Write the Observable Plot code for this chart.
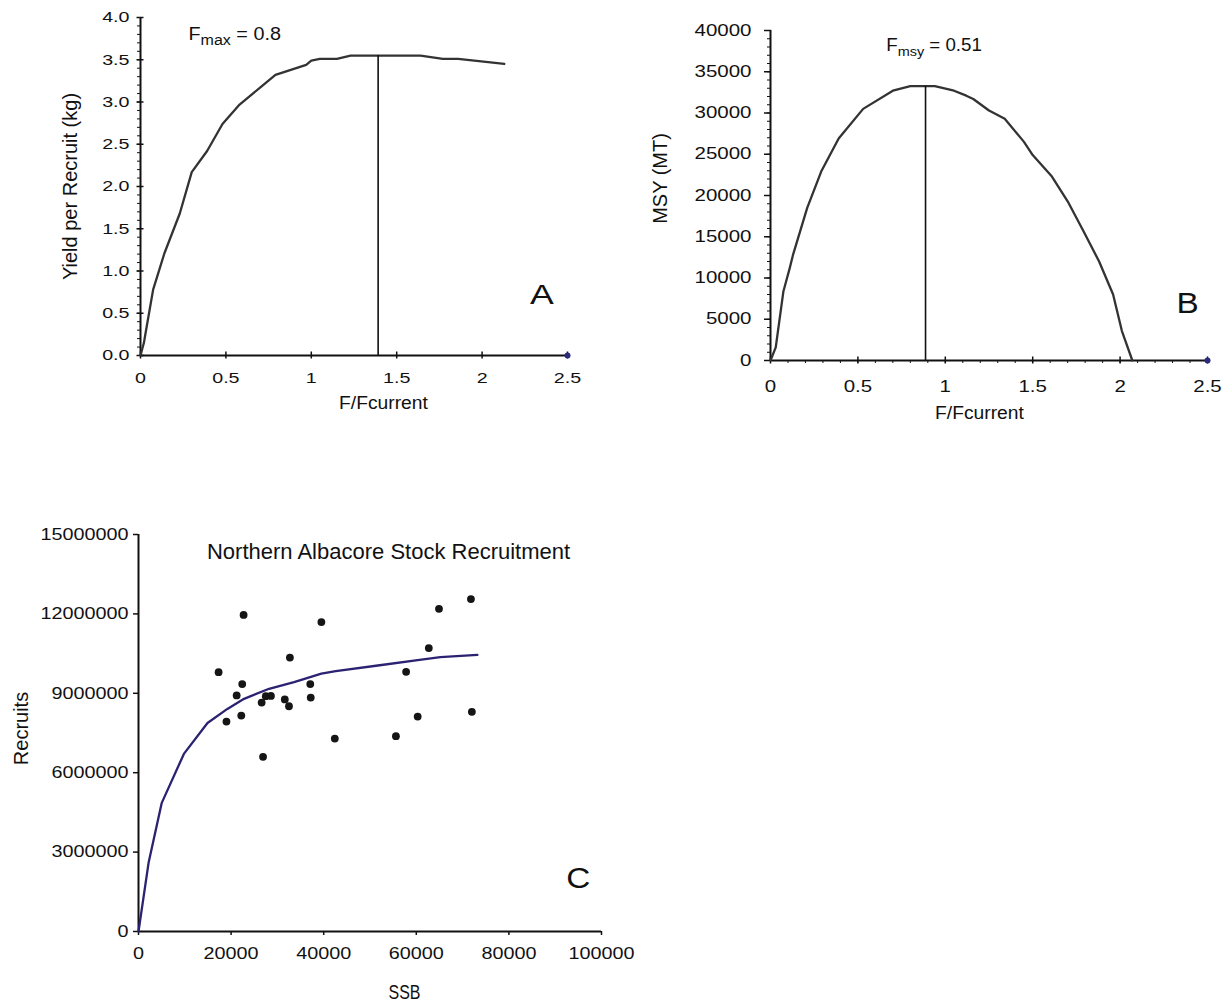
<!DOCTYPE html>
<html>
<head>
<meta charset="utf-8">
<script src="https://cdn.jsdelivr.net/npm/d3@7"></script>
<script src="https://cdn.jsdelivr.net/npm/@observablehq/plot@0.6"></script>
<style>
  body { margin: 0; background: #fff; }
  #page { position: relative; width: 1232px; height: 1003px; overflow: hidden; background: #fff; }
  .panel { position: absolute; }
</style>
</head>
<body>
<div id="page"></div>
<script>
// ---- Panel A: yield per recruit against relative fishing mortality ----
const yprRatio = [0, 0.02, 0.03, 0.074, 0.14, 0.23, 0.30, 0.39, 0.48, 0.58, 0.70, 0.79, 0.88, 0.97, 1.00, 1.05, 1.15, 1.23, 1.40, 1.64, 1.77, 1.86, 2.13];
const yprKg    = [0, 0.15, 0.27, 0.78, 1.21, 1.68, 2.17, 2.42, 2.74, 2.97, 3.17, 3.32, 3.38, 3.44, 3.49, 3.51, 3.51, 3.55, 3.55, 3.55, 3.51, 3.51, 3.45];

// ---- Panel B: equilibrium yield against relative fishing mortality ----
const msyRatio = [0, 0.03, 0.074, 0.11, 0.13, 0.21, 0.29, 0.39, 0.53, 0.70, 0.80, 0.94, 1.05, 1.12, 1.16, 1.25, 1.34, 1.45, 1.50, 1.61, 1.70, 1.79, 1.88, 1.96, 2.01, 2.07];
const msyTons  = [0, 1600, 8400, 11200, 12900, 18500, 22900, 26900, 30500, 32700, 33250, 33250, 32700, 32100, 31700, 30300, 29300, 26500, 24900, 22300, 19300, 15700, 12000, 8000, 3600, 0];

// ---- Panel C: observed stock-recruitment pairs and fitted curve ----
const ssbObs      = [17300, 22700, 21200, 22400, 22200, 19000, 26600, 26900, 27500, 28600, 31600, 32500, 32700, 37100, 37200, 39500, 42400, 55600, 57800, 60300, 62700, 64900, 71800, 72000];
const recruitsObs = [9800000, 11960000, 8920000, 9350000, 8160000, 7930000, 8650000, 6600000, 8890000, 8900000, 8770000, 8510000, 10350000, 9350000, 8840000, 11690000, 7290000, 7380000, 9810000, 8120000, 10710000, 12190000, 12560000, 8300000];
const fitSsb      = [0, 2200, 5000, 9800, 14900, 19200, 22800, 28200, 33600, 39500, 42600, 51700, 60700, 65200, 73200];
const fitRecruits = [0, 2620000, 4850000, 6710000, 7880000, 8410000, 8790000, 9170000, 9420000, 9740000, 9840000, 10050000, 10260000, 10370000, 10450000];

// ---- Reference points ----
const fCurrent  = 0.575;   // current fishing mortality
const fMax      = 0.8;
const fMsy      = 0.51;
const yprAtFmax = 3.55;
const msyAtFmsy = 33250;

// ---- Axis ticks ----
const ratioTicks    = [0, 0.5, 1, 1.5, 2, 2.5];
const ratioMinor    = d3.range(0, 26).map(i => i / 10);
const yprTicks      = [0, 0.5, 1, 1.5, 2, 2.5, 3, 3.5, 4];
const yprMinor      = d3.range(0, 41).map(i => i / 10);
const msyTicks      = [0, 5000, 10000, 15000, 20000, 25000, 30000, 35000, 40000];
const msyMinor      = d3.range(0, 41).map(i => i * 1000);
const ssbTicks      = [0, 20000, 40000, 60000, 80000, 100000];
const recruitTicks  = [0, 3000000, 6000000, 9000000, 12000000, 15000000];

const FONT = "'Liberation Sans', Arial, Helvetica, sans-serif";
const INK = "#111";
const baseStyle = { fontFamily: FONT, color: INK, background: "transparent", overflow: "visible" };
const blank = () => "";
const plain = d => String(d);

function zip(xs, ys, kx, ky) { return xs.map((v, i) => ({ [kx]: v, [ky]: ys[i] })); }

// Turn "F|sub| rest" text into a subscripted label
function subscriptLabels(svg, subSize) {
  d3.select(svg).selectAll("text").each(function () {
    const s = this.textContent;
    if (!s.includes("|")) return;
    const [main, sub, rest] = s.split("|");
    const t = d3.select(this);
    t.text(null);
    t.append("tspan").text(main);
    t.append("tspan").attr("dy", 5).attr("font-size", subSize).text(sub);
    t.append("tspan").attr("dy", -5).text(rest);
  });
}

// Widen (or narrow) horizontal text about its own anchor point
function widen(selection, sx) {
  selection.each(function () {
    const tr = this.getAttribute("transform") || "";
    const x = +this.getAttribute("x") || 0;
    const y = +this.getAttribute("y") || 0;
    this.setAttribute("transform", `${tr} translate(${x},${y}) scale(${sx},1) translate(${-x},${-y})`);
  });
}
function widenTicks(svg, sx) {
  widen(d3.select(svg).selectAll('g[aria-label="x-axis tick label"] text, g[aria-label="y-axis tick label"] text'), sx);
}
function widenWords(svg, words, sx) {
  widen(d3.select(svg).selectAll("text").filter(function () { return words.includes(this.textContent); }), sx);
}

function place(svg, left, top, w) {
  const div = document.createElement("div");
  div.className = "panel";
  div.style.left = left + "px";
  div.style.top = top + "px";
  div.style.width = w + "px";
  div.appendChild(svg);
  document.getElementById("page").appendChild(div);
}

// ---------------- Panel A ----------------
const plotA = Plot.plot({
  width: 610, height: 430,
  marginLeft: 140, marginRight: 43, marginTop: 17, marginBottom: 75,
  x: { domain: [0, 2.5] },
  y: { domain: [0, 4] },
  style: baseStyle,
  marks: [
    Plot.axisY(yprMinor, { tickSize: 3, tickFormat: blank, label: null }),
    Plot.axisY(yprTicks, { tickSize: 7, dx: 3.5, strokeWidth: 1.5, tickFormat: blank, label: null }),
    Plot.axisY(yprTicks, { tickSize: 0, tickPadding: 11, tickFormat: d3.format(".1f"), fontSize: 15.5, label: null }),
    Plot.axisX(ratioTicks, { tickSize: 7, dy: -3.5, strokeWidth: 1.5, tickFormat: blank, label: null }),
    Plot.axisX(ratioTicks, { tickSize: 0, tickPadding: 16.5, tickFormat: plain, fontSize: 15.5, label: null }),
    Plot.ruleX([0], { stroke: INK, strokeWidth: 2 }),
    Plot.ruleY([0], { stroke: INK, strokeWidth: 2 }),
    Plot.line(zip(yprRatio, yprKg, "ratio", "ypr"), { x: "ratio", y: "ypr", stroke: "#333", strokeWidth: 2.3 }),
    Plot.ruleX([fMax / fCurrent], { y1: 0, y2: yprAtFmax, stroke: INK, strokeWidth: 1.6 }),
    Plot.dot([2.5], { x: d => d, y: 0, r: 3, fill: "#2a2a80" }),
    Plot.text(["A"], { text: d => d, x: 2.35, y: 0.615, lineAnchor: "bottom", fontSize: 28.5, fill: INK }),
    Plot.text([`F|max| = ${fMax}`], { text: d => d, x: 0.281, y: 3.736, textAnchor: "start", lineAnchor: "bottom", fontSize: 18.5, fill: INK }),
    Plot.text(["Yield per Recruit (kg)"], { text: d => d, frameAnchor: "left", textAnchor: "middle", lineAnchor: "middle", rotate: -90, dx: -70, fontSize: 20, fill: INK }),
    Plot.text(["F/Fcurrent"], { text: d => d, frameAnchor: "bottom", textAnchor: "middle", lineAnchor: "middle", dx: 29.5, dy: 48, fontSize: 18, fill: INK })
  ]
});
subscriptLabels(plotA, 15);
widenTicks(plotA, 1.27);
widenWords(plotA, ["A"], 1.25);
widenWords(plotA, ["Fmax = 0.8", "F/Fcurrent"], 1.07);
place(plotA, 0, 0, 610);

// ---------------- Panel B ----------------
const plotB = Plot.plot({
  width: 612, height: 440,
  marginLeft: 150, marginRight: 25, marginTop: 30, marginBottom: 80,
  x: { domain: [0, 2.5] },
  y: { domain: [0, 40000] },
  style: baseStyle,
  marks: [
    Plot.axisY(msyMinor, { tickSize: 3, tickFormat: blank, label: null }),
    Plot.axisY(msyTicks, { tickSize: 7, dx: 1, strokeWidth: 1.5, tickFormat: blank, label: null }),
    Plot.axisY(msyTicks, { tickSize: 0, tickPadding: 19, tickFormat: plain, fontSize: 16, label: null }),
    Plot.axisX(ratioMinor, { tickSize: 3, tickFormat: blank, label: null }),
    Plot.axisX(ratioTicks, { tickSize: 7, dy: -3.5, strokeWidth: 1.5, tickFormat: blank, label: null }),
    Plot.axisX(ratioTicks, { tickSize: 0, tickPadding: 20.5, tickFormat: plain, fontSize: 16, label: null }),
    Plot.ruleX([0], { stroke: INK, strokeWidth: 2 }),
    Plot.ruleY([0], { stroke: INK, strokeWidth: 2 }),
    Plot.line(zip(msyRatio, msyTons, "ratio", "msy"), { x: "ratio", y: "msy", stroke: "#333", strokeWidth: 2.3 }),
    Plot.ruleX([fMsy / fCurrent], { y1: 0, y2: msyAtFmsy, stroke: INK, strokeWidth: 1.6 }),
    Plot.dot([2.5], { x: d => d, y: 0, r: 3, fill: "#2a2a80" }),
    Plot.text(["B"], { text: d => d, x: 2.386, y: 5700, lineAnchor: "bottom", fontSize: 29, fill: INK }),
    Plot.text([`F|msy| = ${fMsy}`], { text: d => d, x: 0.662, y: 37490, textAnchor: "start", lineAnchor: "bottom", fontSize: 17.5, fill: INK }),
    Plot.text(["MSY (MT)"], { text: d => d, frameAnchor: "left", textAnchor: "middle", lineAnchor: "middle", rotate: -90, dx: -110, dy: -17, fontSize: 20, fill: INK }),
    Plot.text(["F/Fcurrent"], { text: d => d, frameAnchor: "bottom", textAnchor: "middle", lineAnchor: "middle", dx: -9.5, dy: 52.5, fontSize: 18, fill: INK })
  ]
});
subscriptLabels(plotB, 13.5);
widenTicks(plotB, 1.28);
widenWords(plotB, ["B"], 1.15);
widenWords(plotB, ["Fmsy = 0.51", "F/Fcurrent"], 1.07);
place(plotB, 620, 0, 612);

// ---------------- Panel C ----------------
const plotC = Plot.plot({
  width: 660, height: 483,
  marginLeft: 138, marginRight: 59, marginTop: 14, marginBottom: 72,
  x: { domain: [0, 100000] },
  y: { domain: [0, 15000000] },
  style: baseStyle,
  marks: [
    Plot.axisY(recruitTicks, { tickSize: 5, strokeWidth: 1.5, tickFormat: blank, label: null }),
    Plot.axisY(recruitTicks, { tickSize: 0, tickPadding: 10, tickFormat: plain, fontSize: 16.5, label: null }),
    Plot.axisX(ssbTicks, { tickSize: 4, strokeWidth: 1.5, tickFormat: blank, label: null }),
    Plot.axisX(ssbTicks, { tickSize: 0, tickPadding: 16, tickFormat: plain, fontSize: 16.5, label: null }),
    Plot.ruleX([0], { stroke: INK, strokeWidth: 2 }),
    Plot.ruleY([0], { stroke: INK, strokeWidth: 2 }),
    Plot.line(zip(fitSsb, fitRecruits, "ssb", "rec"), { x: "ssb", y: "rec", stroke: "#2b2272", strokeWidth: 2.3 }),
    Plot.dot(zip(ssbObs, recruitsObs, "ssb", "rec"), { x: "ssb", y: "rec", r: 3.9, fill: "#151515", stroke: "none" }),
    Plot.text(["Northern Albacore Stock Recruitment"], { text: d => d, x: 54000, y: 14080000, lineAnchor: "bottom", fontSize: 22, fill: INK }),
    Plot.text(["C"], { text: d => d, x: 95000, y: 1625000, lineAnchor: "bottom", fontSize: 29, fill: INK }),
    Plot.text(["Recruits"], { text: d => d, frameAnchor: "left", textAnchor: "middle", lineAnchor: "middle", rotate: -90, dx: -116.5, dy: -4.5, fontSize: 20, fill: INK }),
    Plot.text(["SSB"], { text: d => d, frameAnchor: "bottom", textAnchor: "middle", lineAnchor: "middle", dx: 34.5, dy: 61, fontSize: 19.5, fill: INK })
  ]
});
widenTicks(plotC, 1.2);
widenWords(plotC, ["C"], 1.15);
widenWords(plotC, ["SSB"], 0.82);
place(plotC, 0, 520, 660);
</script>
</body>
</html>
